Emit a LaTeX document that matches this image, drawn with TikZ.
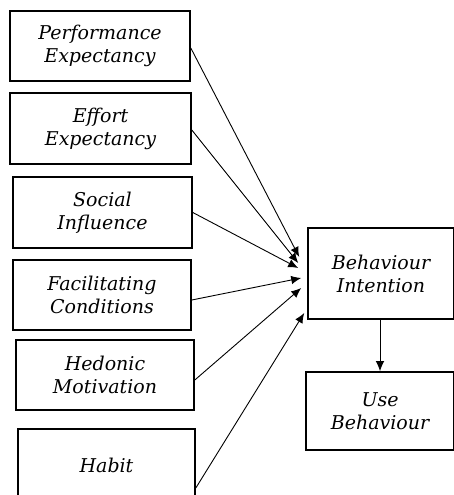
\documentclass[tikz,border=0pt]{standalone}
\usepackage{fontspec}
\setmainfont{DejaVu Serif}
\usetikzlibrary{arrows.meta}

\begin{document}
\begin{tikzpicture}[x=1pt,y=-1pt,
    construct/.style={draw,line width=1.6pt,align=center,inner sep=0pt,
        font=\fontsize{19}{23}\selectfont\itshape},
    path/.style={line width=0.9pt,-{Latex[length=10pt,width=8.5pt]}}]
    \useasboundingbox (0,0) rectangle (453,495);
    % predictors
    \node[construct,minimum width=180pt,minimum height=70pt] (pe) at (100,46) {Performance\\Expectancy};
    \node[construct,minimum width=181pt,minimum height=71pt] (ee) at (100.5,128.5) {Effort\\Expectancy};
    \node[construct,minimum width=179pt,minimum height=71pt] (si) at (102.5,212.5) {Social\\Influence};
    \node[construct,minimum width=178pt,minimum height=70pt] (fc) at (102,295) {Facilitating\\Conditions};
    \node[construct,minimum width=178pt,minimum height=70pt] (hm) at (105,375) {Hedonic\\Motivation};
    \node[construct,minimum width=177pt,minimum height=72pt] (habit) at (106.5,465) {Habit};
    % outcomes
    \node[construct,minimum width=146pt,minimum height=91pt] (bi) at (381,273.5) {Behaviour\\Intention};
    \node[construct,minimum width=148pt,minimum height=78pt] (ub) at (380,411) {Use\\Behaviour};

    \draw[path] ([yshift=-2pt]pe.east) -- ([xshift=-8pt,yshift=16.5pt]bi.west);
    \draw[path] ([yshift=-1.5pt]ee.east) -- ([xshift=-9pt,yshift=10.5pt]bi.west);
    \draw[path] (si.east) -- ([xshift=-9pt,yshift=5.5pt]bi.west);
    \draw[path] ([yshift=-5pt]fc.east) -- ([xshift=-6pt,yshift=-4.5pt]bi.west);
    \draw[path] ([yshift=-5pt]hm.east) -- ([xshift=-6pt,yshift=-14.5pt]bi.west);
    \draw[path] ([yshift=-23pt]habit.east) -- ([xshift=-3pt,yshift=-39.5pt]bi.west);
    \draw[path] (bi.south -| ub.north) -- (ub.north);
\end{tikzpicture}
\end{document}
